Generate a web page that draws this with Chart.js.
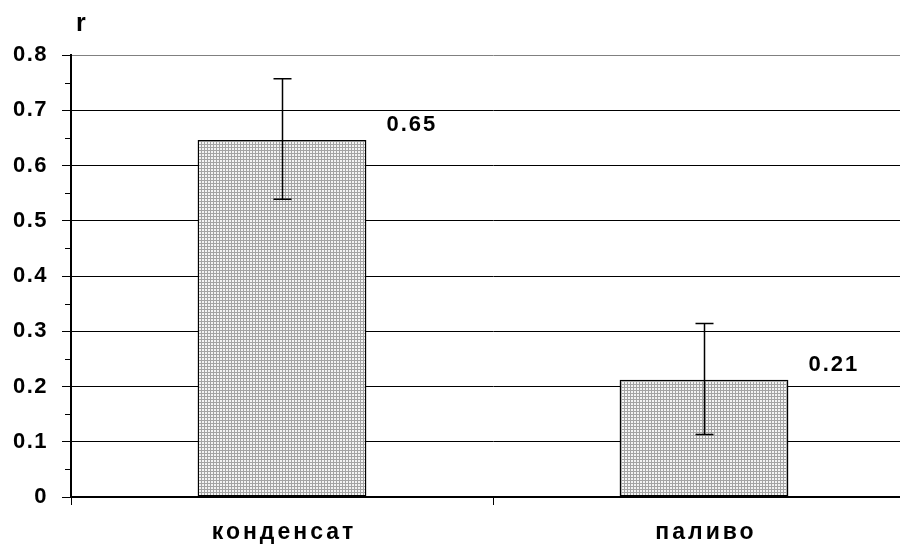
<!DOCTYPE html>
<html>
<head>
<meta charset="utf-8">
<script src="https://cdn.jsdelivr.net/npm/chart.js@4"></script>
<style>
	html, body { margin: 0; padding: 0; overflow: hidden; background: #fff; }
	#wrap { width: 930px; height: 544px; position: relative; }
</style>
</head>
<body>
<div id="wrap"><canvas id="rChart"></canvas></div>
<script>
var categories = ['конденсат', 'паливо'];
var values = [0.646, 0.212];
var errLow = [0.539, 0.113];
var errHigh = [0.757, 0.314];
var valueLabels = ['0.65', '0.21'];
var minorTicks = [0.05, 0.15, 0.25, 0.35, 0.45, 0.55, 0.65, 0.75];
var axisTitle = 'r';

var fontFamily = "'Liberation Sans', Arial, sans-serif";

function makePattern() {
	var c = document.createElement('canvas');
	c.width = 3;
	c.height = 3;
	var p = c.getContext('2d');
	p.fillStyle = '#f4f4f4';
	p.fillRect(0, 0, 3, 3);
	p.fillStyle = '#a4a4a4';
	p.fillRect(0, 0, 3, 1);
	p.fillRect(0, 0, 1, 3);
	return p.createPattern(c, 'repeat');
}

var extras = {
	id: 'extras',
	beforeDraw: function(chart) {
		chart.ctx.letterSpacing = '1.5px';
	},
	afterDatasetsDraw: function(chart) {
		var ctx = chart.ctx;
		var y = chart.scales.y;
		var meta = chart.getDatasetMeta(0);
		ctx.save();
		ctx.strokeStyle = '#000';
		ctx.lineWidth = 1.5;
		meta.data.forEach(function(bar, i) {
			var x = Math.round(bar.x) + 0.5;
			var yt = y.getPixelForValue(errHigh[i]);
			var yb = y.getPixelForValue(errLow[i]);
			ctx.beginPath();
			ctx.moveTo(x, yt);
			ctx.lineTo(x, yb);
			ctx.moveTo(x - 9, yt);
			ctx.lineTo(x + 9, yt);
			ctx.moveTo(x - 9, yb);
			ctx.lineTo(x + 9, yb);
			ctx.stroke();
		});
		// value labels
		ctx.fillStyle = '#000';
		ctx.font = 'bold 22px ' + fontFamily;
		ctx.letterSpacing = '2px';
		ctx.textAlign = 'left';
		ctx.textBaseline = 'middle';
		meta.data.forEach(function(bar, i) {
			ctx.fillText(valueLabels[i], bar.x + bar.width / 2 + 20, bar.y - 15);
		});
		ctx.restore();
	},
	afterDraw: function(chart) {
		var ctx = chart.ctx;
		var y = chart.scales.y;
		var x = chart.scales.x;
		ctx.save();
		// minor ticks
		ctx.strokeStyle = '#000';
		ctx.lineWidth = 1;
		minorTicks.forEach(function(v) {
			var py = Math.round(y.getPixelForValue(v)) + 0.5;
			ctx.beginPath();
			ctx.moveTo(y.right - 6, py);
			ctx.lineTo(y.right, py);
			ctx.stroke();
		});
		// category labels
		ctx.fillStyle = '#000';
		ctx.font = 'bold 23px ' + fontFamily;
		ctx.letterSpacing = '3px';
		ctx.textAlign = 'center';
		ctx.textBaseline = 'middle';
		categories.forEach(function(c, i) {
			ctx.fillText(c, x.getPixelForValue(i) + 2, 533);
		});
		// axis title
		ctx.font = 'bold 25px ' + fontFamily;
		ctx.letterSpacing = '0px';
		ctx.textAlign = 'left';
		ctx.fillText(axisTitle, 76, 24);
		ctx.restore();
	}
};

var config = {
	type: 'bar',
	data: {
		labels: categories,
		datasets: [{
			data: values,
			backgroundColor: makePattern(),
			borderColor: '#000',
			borderWidth: 1.5,
			borderSkipped: false,
			barPercentage: 0.4,
			categoryPercentage: 1,
		}]
	},
	options: {
		responsive: true,
		maintainAspectRatio: false,
		animation: false,
		layout: {
			padding: { top: 55, right: 15, left: 0, bottom: 0 }
		},
		plugins: {
			legend: { display: false },
			tooltip: { enabled: false },
		},
		scales: {
			x: {
				grid: {
					offset: true,
					drawOnChartArea: false,
					color: '#000',
					tickLength: 8,
				},
				border: { color: '#000', width: 2 },
				ticks: { display: false },
				afterFit: function(scale) { scale.height = 47; }
			},
			y: {
				min: 0,
				max: 0.8,
				ticks: {
					stepSize: 0.1,
					color: '#000',
					padding: 14,
					font: { family: fontFamily, size: 22, weight: 'bold' },
					callback: function(v) { return v === 0 ? '0' : v.toFixed(1); }
				},
				grid: {
					color: function(ctx) {
						return ctx.tick && Math.abs(ctx.tick.value - 0.8) < 1e-6 ? '#808080' : '#000';
					},
					tickColor: '#000',
					tickLength: 9,
					lineWidth: 1,
				},
				border: { color: '#000', width: 2 },
				afterFit: function(scale) { scale.width = 71; }
			}
		}
	},
	plugins: [extras]
};

const rChart = new Chart(document.getElementById('rChart'), config);
</script>
</body>
</html>
